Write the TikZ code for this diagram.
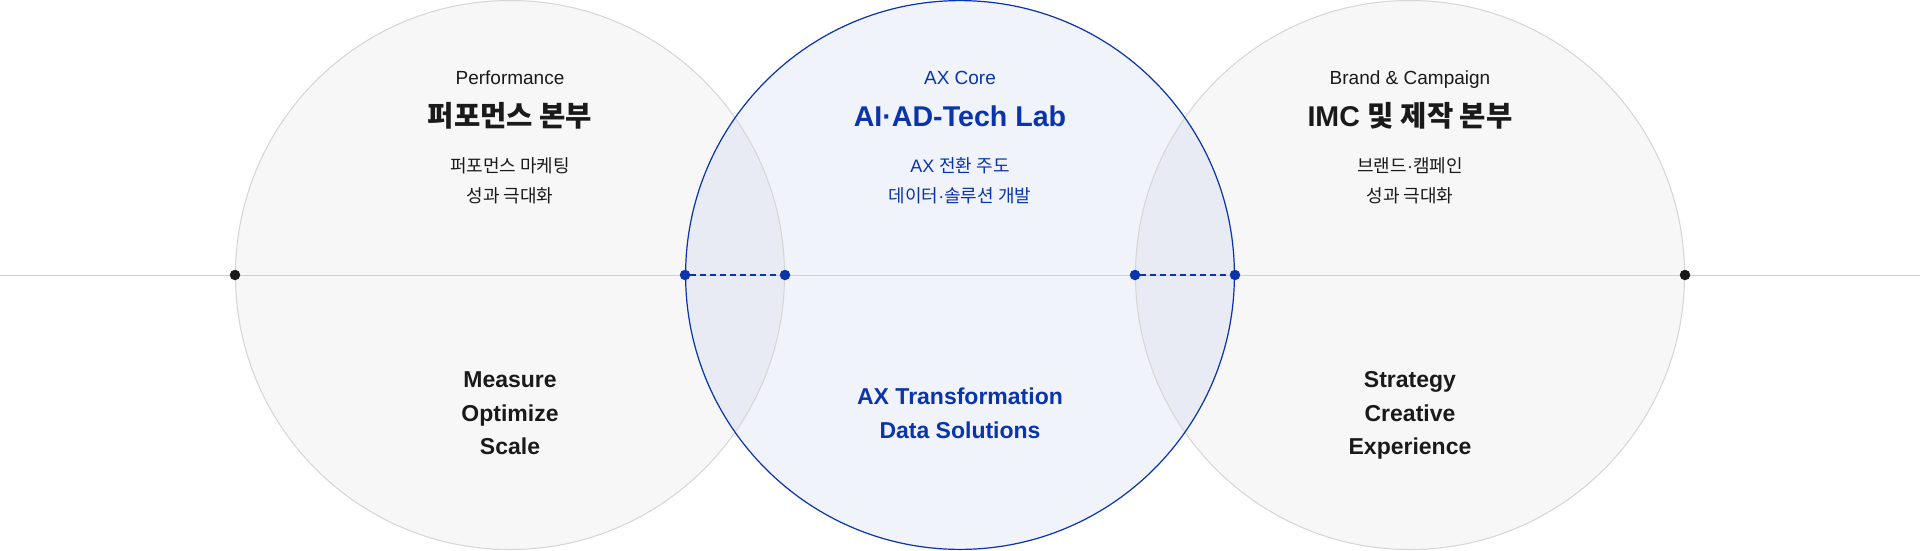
\documentclass[tikz,border=0pt]{standalone}
\usepackage{fontspec}
\setmainfont{Liberation Sans}
\newfontfamily\kr{Noto Sans CJK KR}
\definecolor{sidefill}{HTML}{F7F7F7}
\definecolor{sidestroke}{HTML}{D6D6D6}
\definecolor{corefill}{HTML}{F1F3FA}
\definecolor{lensfill}{HTML}{E8EBF3}
\definecolor{coreblue}{HTML}{0A34AC}
\definecolor{ink}{HTML}{1A1A1A}
\definecolor{axis}{HTML}{CFD0D6}
\tikzset{
  ring/.style={circle, minimum size=550pt, inner sep=0pt, outer sep=0pt},
  sidering/.style={ring, fill=sidefill},
  corering/.style={ring, fill=corefill},
  kicker/.style={anchor=base, font=\fontsize{19}{22}\selectfont, text=ink},
  headline/.style={anchor=base, font=\fontsize{28.6}{32}\selectfont\bfseries, text=ink},
  subline/.style={anchor=base, font=\fontsize{18}{22}\selectfont, text=ink},
  keyword/.style={anchor=base, font=\fontsize{23}{26}\selectfont\bfseries, text=ink},
  blue/.style={text=coreblue},
  blackdot/.style={circle, fill=ink, minimum size=10.5pt, inner sep=0pt},
  bluedot/.style={circle, fill=coreblue, minimum size=10.5pt, inner sep=0pt},
}
\begin{document}
\begin{tikzpicture}[x=1pt,y=-1pt]
\useasboundingbox (0,0) rectangle (1920,550);
\fill[white] (0,0) rectangle (1920,550);
% circles (fills)
\node[sidering] (L) at (510,275) {};
\node[sidering] (R) at (1410,275) {};
\node[corering] (C) at (960,275) {};
% lenses
\begin{scope}
  \clip (510,275) circle (275pt);
  \fill[lensfill] (960,275) circle (275pt);
\end{scope}
\begin{scope}
  \clip (1410,275) circle (275pt);
  \fill[lensfill] (960,275) circle (275pt);
\end{scope}
% strokes
\draw[sidestroke, line width=1pt] (510,275) circle (274.5pt);
\draw[sidestroke, line width=1pt] (1410,275) circle (274.5pt);
\draw[coreblue, line width=1.2pt] (960,275) circle (274.4pt);
% axis
\coordinate (axL) at (0,275);
\coordinate (axR) at (1920,275);
\draw[axis, line width=1pt] (axL) -- (axR);
% dots
\node[blackdot] (d1) at (L.west) {};
\node[bluedot] (d2) at (C.west) {};
\node[bluedot] (d3) at (L.east) {};
\node[bluedot] (d4) at (R.west) {};
\node[bluedot] (d5) at (C.east) {};
\node[blackdot] (d6) at (R.east) {};
\draw[coreblue, line width=1.2pt, dash pattern=on 6pt off 4pt] (d2) -- (d3);
\draw[coreblue, line width=1.2pt, dash pattern=on 6pt off 4pt] (d4) -- (d5);
% left texts
\node[kicker] (t1) at (510,84) {Performance};
\node[headline] (t2) at (510,126) {\kr 퍼포먼스 본부};
\node[subline] (t3) at (510,172) {\kr 퍼포먼스 마케팅};
\node[subline] (t4) at (510,202) {\kr 성과 극대화};
\node[keyword] (k1) at (510,387) {Measure};
\node[keyword] (k2) at (510,421) {Optimize};
\node[keyword] (k3) at (510,454) {Scale};
% center texts
\node[kicker, blue] (c1) at (960,84) {AX Core};
\node[headline, blue] (c2) at (960,126) {AI·AD-Tech Lab};
\node[subline, blue] (c3) at (960,172) {AX {\kr 전환 주도}};
\node[subline, blue] (c4) at (960,202) {{\kr 데이터}·{\kr 솔루션 개발}};
\node[keyword, blue] (ck1) at (960,404) {AX Transformation};
\node[keyword, blue] (ck2) at (960,438) {Data Solutions};
% right texts
\node[kicker] (r1) at (1410,84) {Brand \& Campaign};
\node[headline] (r2) at (1410,126) {IMC {\kr 및 제작 본부}};
\node[subline] (r3) at (1410,172) {{\kr 브랜드}·{\kr 캠페인}};
\node[subline] (r4) at (1410,202) {\kr 성과 극대화};
\node[keyword] (rk1) at (1410,387) {Strategy};
\node[keyword] (rk2) at (1410,421) {Creative};
\node[keyword] (rk3) at (1410,454) {Experience};
\end{tikzpicture}
\end{document}
